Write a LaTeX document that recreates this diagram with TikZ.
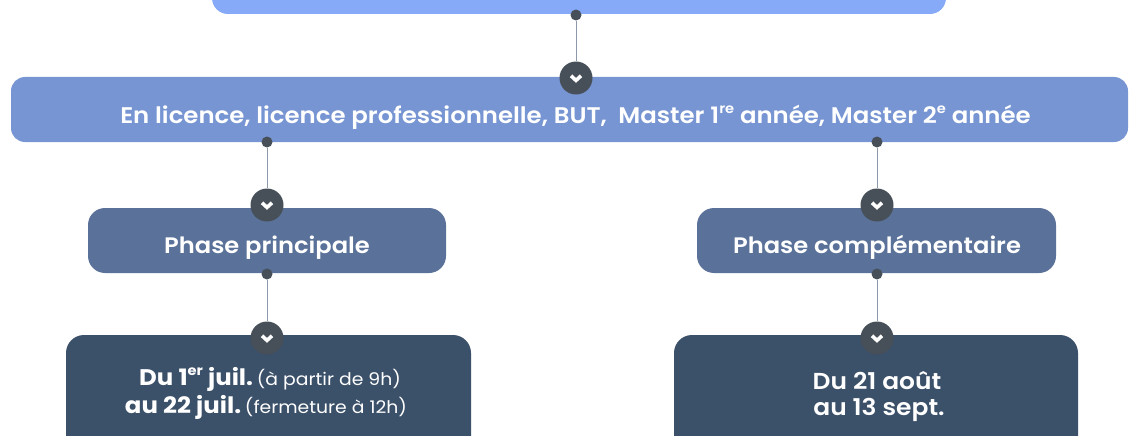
\documentclass[tikz,border=0pt]{standalone}
\usepackage{fontspec}
\usepackage{graphicx}
\setmainfont{Poppins}
\newfontfamily\semib{Poppins SemiBold}
\definecolor{ctop}{HTML}{87AAF8}
\definecolor{cmid}{HTML}{7795D2}
\definecolor{cphase}{HTML}{5A7299}
\definecolor{cdate}{HTML}{3B5069}
\definecolor{cdot}{HTML}{474F58}
\definecolor{cline}{HTML}{8C99AB}
\newcommand{\wide}[1]{\scalebox{1.08}[1]{#1}}
\newcommand{\sups}[1]{\raisebox{0.4em}{\fontsize{0.6em}{0.6em}\selectfont #1}}
\begin{document}
\begin{tikzpicture}[x=1pt,y=-1pt,
  box/.style={rounded corners=16pt, inner sep=0pt, draw=none},
  dotn/.style={circle, fill=cdot, minimum size=11pt, inner sep=0pt},
  chev/.style={circle, fill=cdot, minimum size=33pt, inner sep=0pt},
  chevline/.style={draw=white, line width=3.6pt, miter limit=10},
  link/.style={draw=cline, line width=1pt},
  txt/.style={text=white, inner sep=0pt, anchor=base}]
\useasboundingbox (0,0) rectangle (1130,436);
\begin{scope}
\clip (0,0) rectangle (1130,436);
% boxes
\node[box, fill=ctop, minimum width=734pt, minimum height=54pt] (top) at (579,-13) {};
\node[box, fill=cmid, rounded corners=14pt, minimum width=1117pt, minimum height=65pt] (mid) at (569.5,109.5) {};
\node[box, fill=cphase, rounded corners=17pt, minimum width=358pt, minimum height=65pt] (pp) at (267,240.5) {};
\node[box, fill=cphase, rounded corners=17pt, minimum width=359pt, minimum height=65pt] (pc) at (876.5,240.5) {};
\node[box, fill=cdate, rounded corners=18pt, minimum width=405pt, minimum height=120pt] (dl) at (268.5,395) {};
\node[box, fill=cdate, rounded corners=18pt, minimum width=404pt, minimum height=120pt] (dr) at (876,395) {};
% dots and chevrons
\node[dotn] (d0) at (576,15) {};
\node[chev] (c0) at (576,78) {};
\node[dotn] (d1) at (267,142) {};
\node[chev] (c1) at (267,205) {};
\node[dotn] (d2) at (877,142) {};
\node[chev] (c2) at (877,205) {};
\node[dotn] (d3) at (267,274) {};
\node[chev] (c3) at (267,338) {};
\node[dotn] (d4) at (877,274) {};
\node[chev] (c4) at (877,338) {};
\foreach \c in {c0,c1,c2,c3,c4}{
  \draw[chevline] (\c.center) ++(-5,-2.2) -- ++(5,4.6) -- ++(5,-4.6);
}
\draw[link] (d0) -- (c0);
\draw[link] (d1) -- (c1);
\draw[link] (d2) -- (c2);
\draw[link] (d3) -- (c3);
\draw[link] (d4) -- (c4);
% texts
\node[txt, font=\semib\fontsize{22.6}{26}\selectfont] (tmid) at (575.5,123)
  {\wide{En licence, licence professionnelle, BUT,\ \ Master 1\sups{re} année, Master 2\sups{e} année}};
\node[txt, font=\semib\fontsize{22.4}{26}\selectfont] (tpp) at (267,253) {\wide{Phase principale}};
\node[txt, font=\semib\fontsize{22.4}{26}\selectfont] (tpc) at (877,253) {\wide{Phase complémentaire}};
\node[txt] (tl1) at (270,385)
  {\wide{{\bfseries\fontsize{22.6}{26}\selectfont Du 1\sups{er} juil.} {\fontsize{17.4}{20}\selectfont (à partir de 9h)}}};
\node[txt] (tl2) at (266,413)
  {\wide{{\bfseries\fontsize{22.6}{26}\selectfont au 22 juil.} {\fontsize{17.4}{20}\selectfont (fermeture à 12h)}}};
\node[txt, font=\semib\fontsize{23.1}{26}\selectfont] (tr1) at (877,389) {\wide{Du 21 août}};
\node[txt, font=\semib\fontsize{23.1}{26}\selectfont] (tr2) at (879,415) {\wide{au 13 sept.}};
\end{scope}
\end{tikzpicture}
\end{document}
